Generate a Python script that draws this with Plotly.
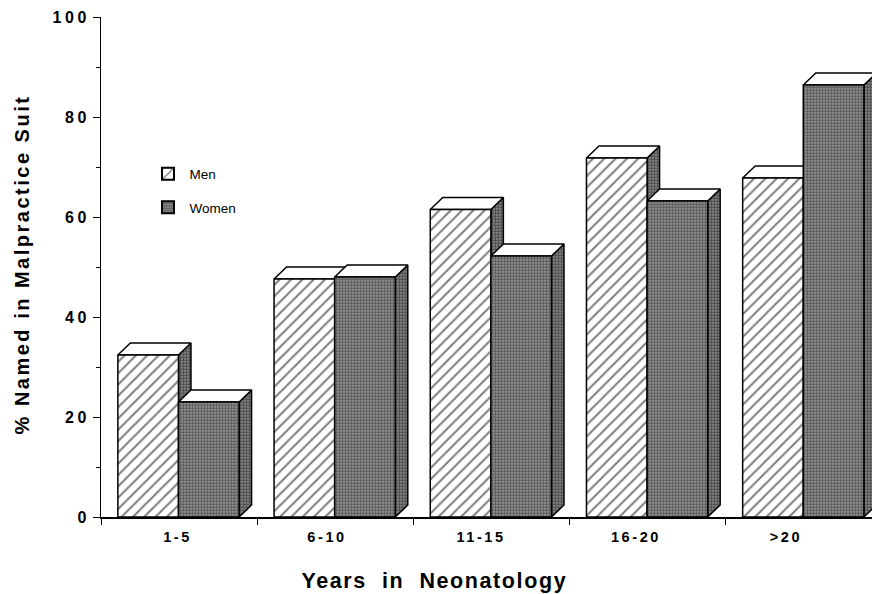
import plotly.graph_objects as go

categories = ["1-5", "6-10", "11-15", "16-20", ">20"]
label_pos = [0.49, 1.447, 2.433, 3.425, 4.385]
men = [32.4, 47.6, 61.5, 71.8, 67.8]
women = [23.0, 48.0, 52.2, 63.2, 86.4]
y_ticks = [0, 20, 40, 60, 80, 100]

OFFSET, BAR_W, DX, DY = 0.108, 0.388, 0.08, 2.4
FONT = "Liberation Sans, Arial, sans-serif"
hatch = dict(shape="/", size=8, solidity=0.26, fgcolor="#000", bgcolor="white")
dots = dict(shape=".", size=3, solidity=0.66, fgcolor="#111", bgcolor="#a8a8a8")
side_dots = dict(shape=".", size=3, solidity=0.72, fgcolor="#000", bgcolor="#a0a0a0")
LINE = dict(color="black", width=1.5)

fig = go.Figure()


def poly(xs, ys, pattern=None, color="white"):
    kw = dict(fillpattern=pattern) if pattern else {}
    fig.add_trace(go.Scatter(x=xs + xs[:1], y=ys + ys[:1], mode="lines", fill="toself",
                             fillcolor=color, line=LINE, showlegend=False,
                             hoverinfo="skip", **kw))


def bar3d(x0, h, pattern):
    x1 = x0 + BAR_W
    poly([x1, x1 + DX, x1 + DX, x1], [0, DY, h + DY, h], side_dots)
    poly([x0, x0 + DX, x1 + DX, x1], [h, h + DY, h + DY, h])
    poly([x0, x1, x1, x0], [0, 0, h, h], pattern)


for i in range(len(categories)):
    bar3d(i + OFFSET, men[i], hatch)
    bar3d(i + OFFSET + BAR_W, women[i], dots)

# legend entries
fig.add_trace(go.Bar(x=[None], y=[None], name="Men", legendgroup="m",
                     marker=dict(color="white", pattern=dict(shape="/", size=9, solidity=0.2, fgcolor="#000", bgcolor="white"),
                                 line=dict(color="black", width=2))))
fig.add_trace(go.Bar(x=[None], y=[None], name="Women", legendgroup="w",
                     marker=dict(color="#333", pattern=dots, line=dict(color="black", width=2))))

fig.update_layout(
    width=872, height=594, margin=dict(l=101, r=0, t=17, b=77, autoexpand=False),
    paper_bgcolor="white", plot_bgcolor="white",
    font=dict(family=FONT, color="black"),
    legend=dict(x=0.059, y=0.717, xanchor="left", yanchor="top", bgcolor="rgba(0,0,0,0)",
                font=dict(size=13.5, family=FONT), itemwidth=33, tracegroupgap=13,
                traceorder="grouped"),
    annotations=[
        dict(text="Years\u00a0 in\u00a0 Neonatology", xref="paper", yref="paper",
             x=0.433, y=-0.128, xanchor="center", yanchor="middle", showarrow=False,
             font=dict(size=21.5, family=FONT, weight="bold")),
        dict(text="% Named in Malpractice Suit", xref="paper", yref="paper", textangle=-90,
             x=-0.1035, y=0.505, xanchor="center", yanchor="middle", showarrow=False,
             font=dict(size=20, family=FONT, weight="bold")),
    ],
    xaxis=dict(
        range=[0, 771 / 156.2], showgrid=False, zeroline=False, showline=True,
        linecolor="black", linewidth=1.6,
        tickmode="array", tickvals=label_pos,
        ticktext=categories, ticks="outside", ticklen=6, tickcolor="rgba(0,0,0,0)",
        tickfont=dict(size=14.5, family=FONT, weight="bold"),
        minor=dict(tick0=0, dtick=1, ticks="outside", ticklen=6, tickcolor="black", tickwidth=1),
    ),
    yaxis=dict(
        range=[0, 100], showgrid=False, zeroline=False, showline=True,
        linecolor="black", linewidth=1,
        tickmode="array", tickvals=y_ticks, ticks="outside", ticklen=7,
        tickcolor="black", tickwidth=1.2,
        tickfont=dict(size=16, family=FONT, weight="bold"),
        minor=dict(dtick=10, ticks="outside", ticklen=4, tickcolor="black", tickwidth=1),
    ),
)
spacing = """
document.body.style.margin = '0';
const sp = (sel, v) => document.querySelectorAll(sel).forEach(t => t.style.letterSpacing = v);
sp('.xtick text', '2.6px'); sp('.ytick text', '3.5px');
const notes = document.querySelectorAll('.annotation-text');
notes[0].style.letterSpacing = '1.6px'; notes[1].style.letterSpacing = '2.5px';
"""
fig.write_html("out.html", post_script=spacing, config=dict(displayModeBar=False))
